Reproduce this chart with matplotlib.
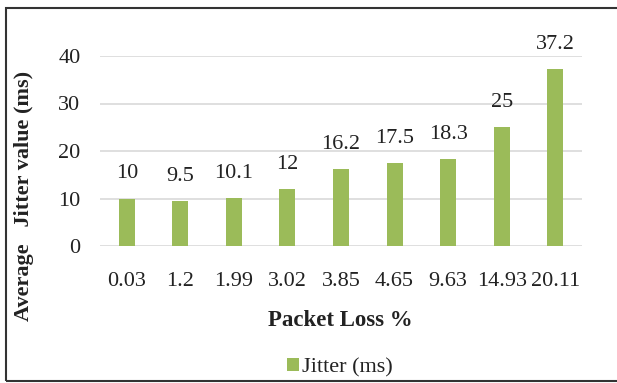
import matplotlib
matplotlib.use("Agg")
import matplotlib.pyplot as plt
from matplotlib.patches import Rectangle

categories = ["0.03", "1.2", "1.99", "3.02", "3.85", "4.65", "9.63", "14.93", "20.11"]
jitter = [10, 9.5, 10.1, 12, 16.2, 17.5, 18.3, 25, 37.2]
labels = ["10", "9.5", "10.1", "12", "16.2", "17.5", "18.3", "25", "37.2"]
yticks = [0, 10, 20, 30, 40]

plt.rcParams['font.family'] = ['Liberation Serif', 'DejaVu Serif']

W, H = 617, 383
fig = plt.figure(figsize=(W/100, H/100), dpi=100)
ax = fig.add_axes([100/W, 1-246/H, 482/W, 190/H])

x = list(range(len(categories)))
bars = ax.bar(x, jitter, width=0.3, color="#9BBB59", zorder=3, label="Jitter (ms)")
ax.set_xlim(-0.5, len(categories)-0.5)
ax.set_ylim(0, 40)
ax.set_yticks(yticks)
ax.set_xticks(x)
ax.set_xticklabels(categories)
ax.yaxis.grid(True, color="#D9D9D9", linewidth=1.2, zorder=0)
ax.set_axisbelow(True)
for s in ax.spines.values():
    s.set_visible(False)
ax.tick_params(axis='both', length=0, labelsize=16, colors="#222222")
ax.tick_params(axis='x', pad=19)
ax.tick_params(axis='y', pad=14)

for xi, v, lab in zip(x, jitter, labels):
    ax.annotate(lab, (xi, v), xytext=(0, 11), textcoords="offset points",
                ha="center", va="bottom", fontsize=16, color="#222222", clip_on=False)

fig.text(24/W, 1-196/H, "Average   Jitter value (ms)", rotation=90, ha="center", va="center",
         fontsize=16, fontweight="bold", color="#222222")
fig.text(340/W, 1-321/H, "Packet Loss %", ha="center", va="center",
         fontsize=16.5, fontweight="bold", color="#222222")

leg = fig.legend(handles=[bars], labels=["Jitter (ms)"], loc="center",
                 bbox_to_anchor=(340/W, 1-368/H), frameon=False, fontsize=16,
                 handlelength=0.5, handleheight=0.5, handletextpad=0.15)
for t in leg.get_texts():
    t.set_color("#222222")

fig.patches.append(Rectangle((6/W, 2/H), 1.2, 1-10/H, transform=fig.transFigure,
                             fill=False, edgecolor="#333333", linewidth=1.5))

fig.savefig("out.png", dpi=100)
